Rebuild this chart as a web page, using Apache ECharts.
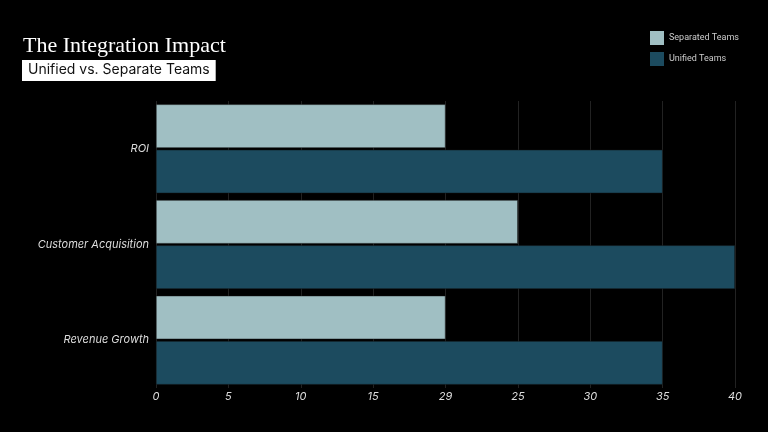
<!DOCTYPE html>
<html>
<head>
<meta charset="utf-8">
<script src="https://cdn.jsdelivr.net/npm/echarts@6/dist/echarts.min.js"></script>
<style>
  html, body { margin: 0; padding: 0; background: #000; }
  #chart { width: 768px; height: 432px; }
</style>
</head>
<body>
<div id="chart"></div>
<script>
// categories listed bottom to top (category axis grows upward)
var categories = ["Revenue Growth", "Customer Acquisition", "ROI"];
var separatedTeams = [20, 25, 20];
var unifiedTeams = [35, 40, 35];
// tick labels exactly as printed on the reference axis
var tickLabels = ["0", "5", "10", "15", "29", "25", "30", "35", "40"];

var chart = echarts.init(document.getElementById("chart"));

var option = {
  backgroundColor: "#000",
  title: [
    {
      text: "The Integration Impact",
      left: 18,
      top: 30,
      textStyle: {
        fontFamily: "Liberation Serif",
        fontWeight: "normal",
        fontSize: 22,
        color: "#fff"
      }
    },
    {
      text: "Unified vs. Separate Teams",
      left: 22,
      top: 60,
      padding: [3, 6, 4, 6],
      backgroundColor: "#fff",
      textStyle: {
        fontFamily: "Inter",
        fontWeight: "normal",
        fontSize: 14,
        color: "#111"
      }
    }
  ],
  legend: {
    orient: "vertical",
    left: 645,
    top: 26,
    itemWidth: 14,
    itemHeight: 14,
    itemGap: 7,
    icon: "rect",
    data: ["Separated Teams", "Unified Teams"],
    itemStyle: { borderWidth: 0 },
    textStyle: {
      color: "#ccc",
      fontFamily: "Roboto",
      fontSize: 9
    }
  },
  grid: {
    left: 156,
    right: 33,
    top: 101,
    bottom: 44
  },
  xAxis: {
    type: "value",
    min: 0,
    max: 40,
    interval: 5,
    axisLine: { show: false },
    axisTick: { show: false },
    splitLine: {
      show: true,
      lineStyle: { color: "#222", width: 1 }
    },
    axisLabel: {
      color: "#ddd",
      fontFamily: "Inter",
      fontStyle: "italic",
      fontSize: 11,
      margin: 3,
      formatter: function (v) {
        return tickLabels[Math.round(v / 5)];
      }
    }
  },
  yAxis: {
    type: "category",
    data: categories,
    axisLine: { show: false },
    axisTick: { show: false },
    axisLabel: {
      color: "#ddd",
      fontFamily: "Inter",
      fontStyle: "italic",
      fontSize: 11,
      margin: 7
    }
  },
  series: [
    {
      name: "Separated Teams",
      type: "bar",
      data: separatedTeams,
      barGap: "4%",
      barCategoryGap: "7%",
      itemStyle: { color: "#a0bfc3", borderColor: "#111", borderWidth: 0.5 }
    },
    {
      name: "Unified Teams",
      type: "bar",
      data: unifiedTeams,
      barGap: "4%",
      barCategoryGap: "7%",
      itemStyle: { color: "#1c4b5f", borderColor: "#111", borderWidth: 0.5 }
    }
  ]
};

chart.setOption(option);
</script>
</body>
</html>
